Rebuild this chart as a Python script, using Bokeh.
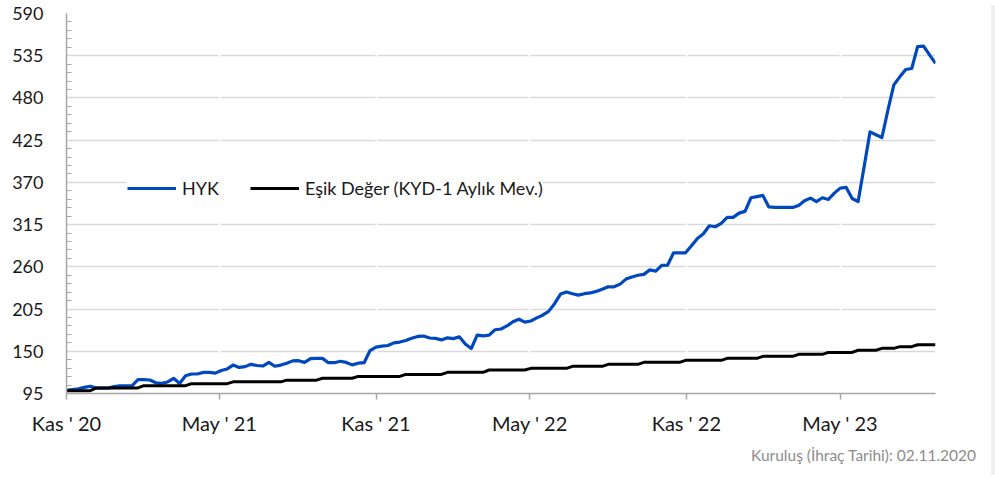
import pandas as pd
from bokeh.plotting import figure
from bokeh.layouts import row
from bokeh.models import (ColumnDataSource, Range1d, FixedTicker, CustomJSTickFormatter,
                          Legend, LegendItem, Grid, Title, Div)
from bokeh.embed import file_html
from bokeh.resources import INLINE

# ---------------- data ----------------
start_date = "2020-11-02"   # Kuruluş (İhraç Tarihi)
n_weeks = 147

hyk = [
    99, 100, 101, 103, 104.5, 102, 102, 102, 104, 105,
    105, 105, 113, 113, 112.6, 109, 108.3, 110, 114.8, 108,
    118, 120.4, 120.4, 122.5, 122.5, 121.5, 125, 127, 132, 129,
    130, 133, 131.5, 130.8, 135.5, 130.5, 132, 134.5, 137.5, 137.7,
    135.5, 140.5, 140.8, 140.8, 135.1, 135.1, 137, 135.5, 132.3, 134.5,
    135.1, 151, 155.5, 156.8, 157.5, 161, 162, 164, 167, 169.3,
    169.8, 167.3, 166.8, 164.8, 167.5, 166.5, 168.9, 159.5, 153.5, 171,
    170, 171, 178, 179, 183, 188.5, 191.8, 188, 189.5, 193.5,
    197, 202, 212, 224.5, 227.3, 225, 223.2, 225, 226, 228,
    230.8, 234, 234, 237.5, 244, 246.8, 249, 250.2, 256, 254.5,
    262, 262.3, 278.3, 278.3, 278.3, 287.5, 297, 303, 313.5, 312.2,
    316.5, 324.4, 324.4, 330, 332.2, 350, 351.5, 353, 338, 337.4,
    337.4, 337.4, 337.4, 340, 346, 349.5, 345, 350, 347.8, 356,
    362.5, 363.4, 349, 345, 390, 435.8, 432, 428.5, 464, 497,
    507.5, 517, 518.3, 547, 547.4, 536, 525,
]

esik = [
    98.7, 98.7, 98.7, 98.7, 98.7,
    102.3, 102.3, 102.3, 102.3, 102.3, 102.3, 102.3, 102.3,
    105.2, 105.2, 105.2, 105.2, 105.2, 105.2, 105.2, 105.2,
    107.8, 107.8, 107.8, 107.8, 107.8, 107.8, 107.8,
    110.2, 110.2, 110.2, 110.2, 110.2, 110.2, 110.2, 110.2, 110.2,
    112.4, 112.4, 112.4, 112.4, 112.4, 112.4,
    114.8, 114.8, 114.8, 114.8, 114.8, 114.8,
    117.3, 117.3, 117.3, 117.3, 117.3, 117.3, 117.3, 117.3,
    119.9, 119.9, 119.9, 119.9, 119.9, 119.9, 119.9,
    122.6, 122.6, 122.6, 122.6, 122.6, 122.6, 122.6,
    125.6, 125.6, 125.6, 125.6, 125.6, 125.6, 125.6,
    127.8, 127.8, 127.8, 127.8, 127.8, 127.8, 127.8,
    130.4, 130.4, 130.4, 130.4, 130.4, 130.4,
    133.0, 133.0, 133.0, 133.0, 133.0, 133.0,
    135.6, 135.6, 135.6, 135.6, 135.6, 135.6, 135.6,
    138.2, 138.2, 138.2, 138.2, 138.2, 138.2, 138.2,
    140.8, 140.8, 140.8, 140.8, 140.8, 140.8,
    143.4, 143.4, 143.4, 143.4, 143.4, 143.4,
    146.0, 146.0, 146.0, 146.0, 146.0,
    148.5, 148.5, 148.5, 148.5, 148.5,
    151.3, 151.3, 151.3, 151.3,
    153.8, 153.8, 153.8,
    156.0, 156.0, 156.0,
    158.5, 158.5, 158.5, 158.5,
]

x_tick_dates = ["2020-11-02", "2021-05-01", "2021-11-01", "2022-05-01", "2022-11-01", "2023-05-01"]
x_tick_labels = ["Kas ' 20", "May ' 21", "Kas ' 21", "May ' 22", "Kas ' 22", "May ' 23"]
y_ticks = [95, 150, 205, 260, 315, 370, 425, 480, 535, 590]

series_names = ["HYK", "Eşik Değer (KYD-1 Aylık Mev.)"]
footer_text = "Kuruluş (İhraç Tarihi): 02.11.2020"

# ---------------- build ----------------
dates = pd.date_range(start_date, periods=n_weeks, freq="7D")
src = ColumnDataSource(dict(date=dates, hyk=hyk, esik=esik))

FONT = "Lato"

p = figure(x_axis_type="datetime", output_backend="svg", toolbar_location=None,
           frame_width=869, frame_height=380,
           min_border_left=66, min_border_right=51, min_border_top=13, min_border_bottom=4,
           background_fill_color="white", border_fill_color="white",
           outline_line_color=None)

p.x_range = Range1d(dates[0], dates[-1])
p.y_range = Range1d(y_ticks[0], y_ticks[-1])

# grids
p.xgrid.grid_line_color = None
p.ygrid.grid_line_color = "#d9d9d9"
p.ygrid.grid_line_width = 1.5

tick_ms = [pd.Timestamp(d).value / 1e6 for d in x_tick_dates]
xticker = FixedTicker(ticks=tick_ms, minor_ticks=[])
p.xaxis.ticker = xticker
p.xaxis.formatter = CustomJSTickFormatter(
    args=dict(tvals=tick_ms, tlabels=x_tick_labels),
    code="""
    for (let i = 0; i < tvals.length; i++) {
        if (Math.abs(tvals[i] - tick) < 1000) return tlabels[i];
    }
    return "";
""")

step = (y_ticks[1] - y_ticks[0]) / 5
minor = []
for t in y_ticks[:-1]:
    for j in range(1, 5):
        minor.append(t + j * step)
p.yaxis.ticker = FixedTicker(ticks=y_ticks, minor_ticks=minor)

# white gaps in gridlines at x ticks (as in the original)
gap = Grid(dimension=0, ticker=xticker, grid_line_color="white", grid_line_width=2)
p.add_layout(gap, "center")

for ax in (p.xaxis, p.yaxis):
    ax.axis_line_color = "#a6a6a6"
    ax.axis_line_width = 1.5
    ax.major_label_text_font = FONT
    ax.major_label_text_color = "#1a1a1a"

p.xaxis.major_tick_out = 6
p.xaxis.major_tick_in = 0
p.xaxis.major_tick_line_color = "#a6a6a6"
p.xaxis.major_tick_line_width = 1.5
p.xaxis.minor_tick_line_color = None
p.xaxis.major_label_text_font_size = "20px"
p.xaxis.major_label_standoff = 11

p.yaxis.major_tick_out = 0
p.yaxis.major_tick_in = 0
p.yaxis.minor_tick_in = 5
p.yaxis.minor_tick_out = 0
p.yaxis.minor_tick_line_color = "#a6a6a6"
p.yaxis.minor_tick_line_width = 1
p.yaxis.major_label_text_font_size = "18px"
p.yaxis.major_label_standoff = 23

r1 = p.line("date", "hyk", source=src, line_color="#0048BD", line_width=3.2, line_join="round")
r2 = p.line("date", "esik", source=src, line_color="#000000", line_width=3, line_join="round")

legend = Legend(items=[LegendItem(label=series_names[0], renderers=[r1]),
                       LegendItem(label=series_names[1], renderers=[r2])],
                orientation="horizontal", location=(61, 194),
                background_fill_color="white", background_fill_alpha=1,
                border_line_color=None, padding=4, margin=0, spacing=31,
                glyph_width=49, glyph_height=20, label_standoff=6,
                label_text_font=FONT, label_text_font_size="18px",
                label_text_color="#1a1a1a")
p.add_layout(legend, "center")

foot = Title(text=footer_text, align="right", text_font=FONT, text_font_size="15.5px",
             text_color="#8c8c8c", text_font_style="normal", offset=-41, standoff=13)
p.add_layout(foot, "below")

strip = Div(text="", width=8, height=470, styles={"background-color": "#f0f0f0"})
layout = row(p, strip, spacing=0)

open("out.html", "w").write(file_html(layout, INLINE))
